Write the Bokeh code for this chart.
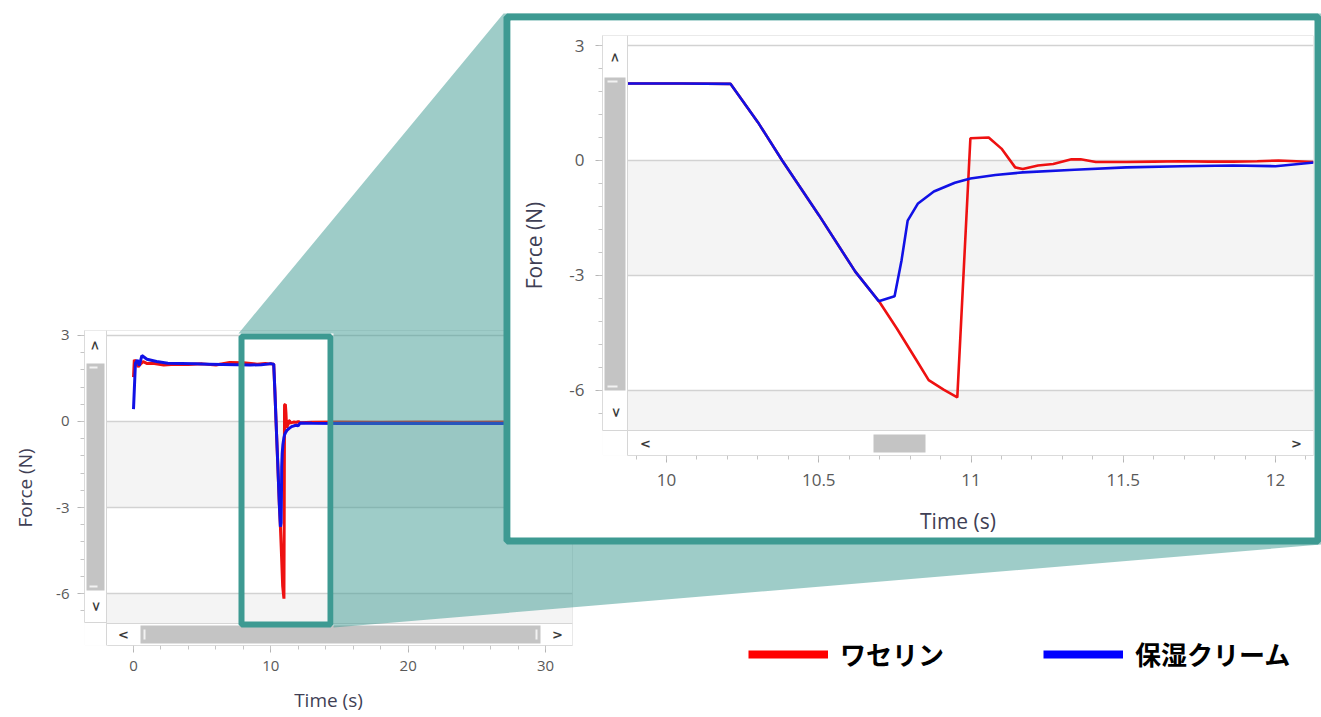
import math
from bokeh.plotting import figure
from bokeh.models import (Range1d, SingleIntervalTicker, CustomJSTickFormatter, BoxAnnotation,
                          Label, Legend, LegendItem, ColumnDataSource)
from bokeh.embed import file_html
from bokeh.resources import INLINE

# ---------------- data ----------------
series_names = ["ワセリン", "保湿クリーム"]

red_time = [0.0, 0.06, 0.2, 0.34, 0.5, 0.7, 1.0, 1.4, 2.2, 3.0, 4.0, 5.0, 6.0, 7.0, 8.0, 9.0,
            9.6, 9.9, 10.05, 10.21, 10.30, 10.38, 10.50, 10.62, 10.70, 10.757, 10.82, 10.861,
            10.91, 10.955, 10.998, 11.058, 11.10, 11.145, 11.17, 11.22, 11.27, 11.33, 11.36,
            11.41, 11.51, 11.60, 11.69, 11.78, 11.86, 11.94, 12.01, 12.13, 13.0, 15.0, 18.0,
            21.0, 24.0, 27.0, 30.0]
red_force = [1.55, 2.15, 2.05, 1.91, 2.0, 2.09, 2.02, 2.03, 1.97, 2.0, 1.99, 2.01, 1.97, 2.06,
             2.05, 2.0, 2.02, 2.01, 2.01, 2.0, 1.0, 0.0, -1.42, -2.9, -3.70, -4.39, -5.2, -5.73,
             -5.98, -6.18, 0.58, 0.6, 0.31, -0.18, -0.22, -0.13, -0.09, 0.03, 0.03, -0.04,
             -0.04, -0.03, -0.02, -0.03, -0.03, -0.02, 0.0, -0.04, -0.03, -0.02, -0.03, -0.02,
             -0.03, -0.02, -0.03]

blue_time = [0.0, 0.14, 0.28, 0.42, 0.61, 0.98, 1.68, 2.5, 3.5, 4.5, 5.5, 6.5, 7.5, 8.5, 9.3,
             9.9, 10.05, 10.21, 10.30, 10.38, 10.50, 10.62, 10.697, 10.749, 10.772, 10.792,
             10.826, 10.878, 10.947, 10.998, 11.08, 11.17, 11.34, 11.51, 11.69, 11.86, 12.0,
             12.13, 13.0, 15.0, 18.0, 21.0, 24.0, 27.0, 30.0]
blue_force = [0.43, 2.03, 2.15, 1.95, 2.3, 2.17, 2.09, 2.03, 2.02, 2.01, 2.0, 1.99, 1.98, 1.97,
              1.98, 2.01, 2.01, 2.0, 1.0, 0.0, -1.42, -2.9, -3.67, -3.54, -2.6, -1.57, -1.12,
              -0.81, -0.58, -0.47, -0.38, -0.31, -0.24, -0.18, -0.15, -0.13, -0.15, -0.05,
              -0.06, -0.07, -0.06, -0.07, -0.06, -0.07, -0.06]

y_ticks_step = 3
x_ticks_step_main = 10
x_ticks_step_zoom = 0.5

# ---------------- styling ----------------
RED = "#ee1111"
BLUE = "#1111e6"
TEAL = "#3d9a92"
GRID = "#d2d2d2"
BAND = "#f4f4f4"
FRAME = "#d6d6d6"
THUMB = "#c4c4c4"
FONT = "Open Sans"
TICK_TXT = "#595959"
TITLE_TXT = "#3f3f55"

fmt_code = "return String(Math.round(tick*10)/10);"


def style_axes(p, xstep, xbounds, ybounds, tick_fs, title_fs, xlab_std, ylab_std, tick_std):
    for ax in (p.xaxis[0], p.yaxis[0]):
        ax.formatter = CustomJSTickFormatter(code=fmt_code)
        ax.axis_line_color = FRAME
        ax.major_tick_line_color = "#b5b5b5"
        ax.minor_tick_line_color = "#c5c5c5"
        ax.major_tick_in = 0
        ax.minor_tick_in = 0
        ax.major_tick_out = 7
        ax.minor_tick_out = 4
        ax.major_label_text_font = FONT
        ax.major_label_text_font_size = tick_fs
        ax.major_label_text_color = TICK_TXT
        ax.major_label_standoff = tick_std
        ax.axis_label_text_font = FONT
        ax.axis_label_text_font_size = title_fs
        ax.axis_label_text_font_style = "normal"
        ax.axis_label_text_color = TITLE_TXT
    p.xaxis[0].ticker = SingleIntervalTicker(interval=xstep, num_minor_ticks=5)
    p.yaxis[0].ticker = SingleIntervalTicker(interval=y_ticks_step, num_minor_ticks=5)
    p.xaxis[0].bounds = xbounds
    p.yaxis[0].bounds = ybounds
    p.xaxis[0].axis_label = "Time (s)"
    p.yaxis[0].axis_label = "Force (N)"
    p.xaxis[0].axis_label_standoff = xlab_std
    p.yaxis[0].axis_label_standoff = ylab_std
    p.xgrid.visible = False
    p.ygrid.grid_line_color = GRID
    p.ygrid.grid_line_width = 1.3


def px_box(p, l, r, t, b, **kw):
    box = BoxAnnotation(left=l, right=r, top=t, bottom=b, x_range_name="px", y_range_name="py", **kw)
    p.add_layout(box)
    return box


def px_label(p, x, y, txt, ang=0.0):
    p.add_layout(Label(x=x, y=y, x_range_name="px", y_range_name="py", text=txt, angle=ang,
                       text_font="DejaVu Sans", text_font_style="bold", text_font_size="13px",
                       text_color="#3a3a3a", text_align="center", text_baseline="middle"))


def chart_chrome(p, ymin, vstrip, hstrip, plot_box, corner, vthumb, hthumb, grips, arrows):
    # alternating grey bands between grid lines
    p.add_layout(BoxAnnotation(bottom=-3, top=0, fill_color=BAND, fill_alpha=1, line_alpha=0, level="image"))
    p.add_layout(BoxAnnotation(bottom=ymin, top=-6, fill_color=BAND, fill_alpha=1, line_alpha=0, level="image"))
    px_box(p, *corner, fill_color="white", fill_alpha=1, line_alpha=0)
    px_box(p, *vstrip, fill_color="white", fill_alpha=1, line_color=FRAME, line_alpha=1, line_width=1)
    px_box(p, *hstrip, fill_color="white", fill_alpha=1, line_color=FRAME, line_alpha=1, line_width=1)
    px_box(p, *plot_box, fill_alpha=0, line_color=FRAME, line_alpha=1, line_width=1)
    px_box(p, *vthumb, fill_color=THUMB, fill_alpha=1, line_alpha=0)
    px_box(p, *hthumb, fill_color=THUMB, fill_alpha=1, line_alpha=0)
    for g in grips:
        px_box(p, *g, fill_color="#f2f2f2", fill_alpha=1, line_alpha=0)
    (ux, uy), (dx, dy), (lx, ly), (rx, ry) = arrows
    px_label(p, ux, uy, "<", -math.pi / 2)
    px_label(p, dx, dy, "<", math.pi / 2)
    px_label(p, lx, ly, "<")
    px_label(p, rx, ry, ">")


red_src = ColumnDataSource(data=dict(t=red_time, f=red_force))
blue_src = ColumnDataSource(data=dict(t=blue_time, f=blue_force))

# ---------------- overview chart (bottom layer, in normal flow) ----------------
main = figure(width=600, height=717, output_backend="svg", toolbar_location=None,
              x_range=Range1d(-3.568, 31.966), y_range=Range1d(-7.813, 3.174),
              min_border_left=84, min_border_right=28, min_border_top=330, min_border_bottom=72,
              outline_line_color=None, background_fill_color="white", border_fill_color="white")
main.extra_x_ranges = {"px": Range1d(84, 572)}
main.extra_y_ranges = {"py": Range1d(645, 330)}
style_axes(main, x_ticks_step_main, (-1.893, 31.966), (-7.01, 3.174), "15px", "19px", 13, 15, 8)

main.line("t", "f", source=red_src, line_color=RED, line_width=3)
main.line("t", "f", source=blue_src, line_color=BLUE, line_width=3)

chart_chrome(main, -7.813,
             vstrip=(84, 106, 330, 622), hstrip=(106, 572, 623, 645), plot_box=(106, 572, 330, 623),
             corner=(84, 106, 622, 645),
             vthumb=(86, 104, 363, 590), hthumb=(140, 540, 625, 643),
             grips=((89, 97, 366, 368), (89, 97, 585, 587), (143, 145, 629, 639), (535, 537, 629, 639)),
             arrows=((95, 345), (95, 606), (123, 634), (557, 634)))

# ---------------- transparent overlay: zoom wedge, frames, legend ----------------
ov = figure(width=1321, height=717, output_backend="svg", toolbar_location=None,
            x_range=Range1d(0, 1321), y_range=Range1d(717, 0), min_border=0,
            x_axis_type=None, y_axis_type=None, outline_line_color=None,
            background_fill_alpha=0, border_fill_alpha=0)
ov.grid.visible = False
ov.patch([238, 503, 1321, 1321, 333, 333], [333, 13, 13, 544, 627, 333],
         fill_color=TEAL, fill_alpha=0.5, line_alpha=0)
ov.add_layout(BoxAnnotation(left=241, right=330, top=336, bottom=624, fill_alpha=0,
                            line_color=TEAL, line_alpha=1, line_width=6))
ov.add_layout(BoxAnnotation(left=506.5, right=1317.5, top=16.5, bottom=540.5, fill_color="white",
                            fill_alpha=1, line_color=TEAL, line_alpha=1, line_width=7))

# legend proxies (kept outside the visible range; only their legend swatches show)
proxy_src = ColumnDataSource(data=dict(x=[-60, -50], y=[-60, -60]))
leg_red = ov.line("x", "y", source=proxy_src, line_color="#ff0000", line_width=8)
leg_blue = ov.line("x", "y", source=proxy_src, line_color="#0000ff", line_width=8)
legend = Legend(items=[LegendItem(label=series_names[0], renderers=[leg_red]),
                       LegendItem(label=series_names[1], renderers=[leg_blue])],
                orientation="horizontal", location=(748, 45), glyph_width=80, glyph_height=30,
                label_height=30, label_standoff=12, spacing=99, padding=0, margin=0,
                label_text_font="Noto Sans CJK JP", label_text_font_style="bold",
                label_text_font_size="26px", label_text_color="black",
                border_line_alpha=0, background_fill_alpha=0)
ov.add_layout(legend)
ov.styles = {"position": "absolute", "left": "0px", "top": "0px", "z-index": "1"}

# ---------------- zoomed inset (top layer) ----------------
ins = figure(width=804, height=517, output_backend="svg", toolbar_location=None,
             x_range=Range1d(9.7898, 12.1248), y_range=Range1d(-7.697, 3.261),
             min_border_left=92, min_border_right=1, min_border_top=15, min_border_bottom=82,
             outline_line_color=None, background_fill_color="white", border_fill_color="white")
ins.extra_x_ranges = {"px": Range1d(602, 1313)}
ins.extra_y_ranges = {"py": Range1d(455, 35)}
style_axes(ins, x_ticks_step_zoom, (9.872, 12.1248), (-7.044, 3.261), "17px", "21px", 18, 18, 11)

ins.line("t", "f", source=red_src, line_color=RED, line_width=2.6)
ins.line("t", "f", source=blue_src, line_color=BLUE, line_width=2.6)

chart_chrome(ins, -7.697,
             vstrip=(602, 627, 35, 430), hstrip=(627, 1313, 430, 455), plot_box=(627, 1313, 35, 430),
             corner=(602, 627, 430, 455),
             vthumb=(604, 625, 77, 390), hthumb=(873, 925, 434, 452),
             grips=((607, 617, 80, 82), (607, 617, 385, 387)),
             arrows=((615, 57), (615, 412), (645, 443), (1296, 443)))
ins.styles = {"position": "absolute", "left": "510px", "top": "20px", "z-index": "2"}

open("out.html", "w").write(file_html([main, ov, ins], INLINE))
